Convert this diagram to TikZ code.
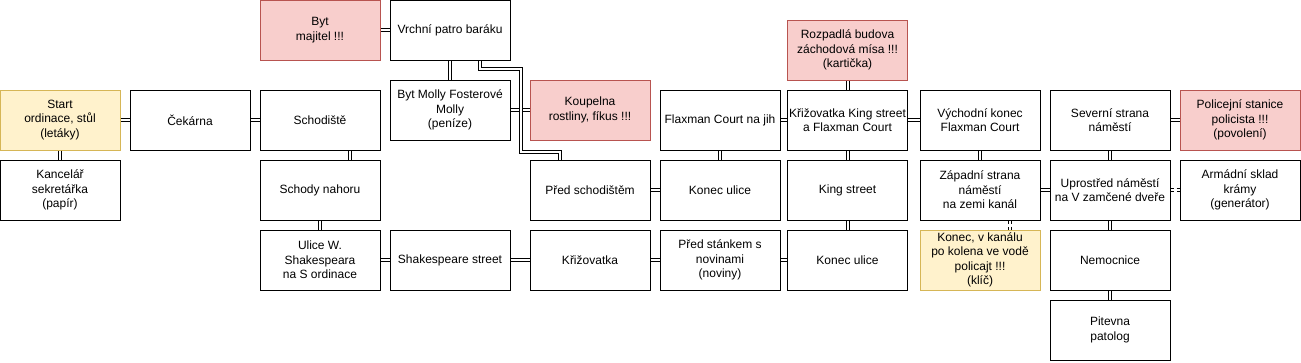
\documentclass[tikz,border=0pt]{standalone}
\usepackage{fontspec}
\setmainfont{Liberation Sans}
\usepackage{tikz}
\definecolor{yellowfill}{HTML}{FFF2CC}
\definecolor{yellowline}{HTML}{D6B656}
\definecolor{redfill}{HTML}{F8CECC}
\definecolor{redline}{HTML}{B85450}

\begin{document}
\begin{tikzpicture}[x=0.75pt,y=-0.75pt,
		room/.style={draw,line width=0.75pt,minimum width=90pt,minimum height=45pt,inner sep=0pt,align=center,font=\fontsize{9}{10.8}\selectfont},
		startroom/.style={room,draw=yellowline,fill=yellowfill},
		danger/.style={room,draw=redline,fill=redfill},
		link/.style={double,line width=0.75pt,double distance=1.5pt},
		maybe/.style={link,dash pattern=on 2.25pt off 2.25pt}]
			\useasboundingbox (0,0) rectangle (1301,362);
			% ordinace a okoli
			\node[startroom] (start) at (60,120) {Start\\ordinace, stůl\\(letáky)};
			\node[room] (kanc) at (60,190) {Kancelář\\sekretářka\\(papír)};
			\node[room] (cekarna) at (190,120) {Čekárna};
			\node[danger] (majitel) at (320,30) {Byt\\majitel !!!};
			\node[room] (schodiste) at (320,120) {Schodiště};
			\node[room] (schody) at (320,190) {Schody nahoru};
			\node[room] (ulice) at (320,260) {Ulice W.\\Shakespeara\\na S ordinace};
			\node[room] (vrchni) at (450,30) {Vrchní patro baráku};
			\node[room] (molly) at (450,110) {Byt Molly Fosterové\\Molly\\(peníze)};
			\node[room] (shakes) at (450,260) {Shakespeare street};
			\node[danger] (koupelna) at (590,110) {Koupelna\\rostliny, fíkus !!!};
			\node[room] (predschod) at (590,190) {Před schodištěm};
			\node[room] (krizovatka) at (590,260) {Křižovatka};
			% Flaxman Court a King street
			\node[room] (flaxjih) at (720,120) {Flaxman Court na jih};
			\node[room] (konecA) at (720,190) {Konec ulice};
			\node[room] (stanek) at (720,260) {Před stánkem s\\novinami\\(noviny)};
			\node[danger] (rozpadla) at (847.5,50) {Rozpadlá budova\\záchodová mísa !!!\\(kartička)};
			\node[room] (kingkriz) at (847.5,120) {Křižovatka King street\\a Flaxman Court};
			\node[room] (king) at (847.5,190) {King street};
			\node[room] (konecB) at (847.5,260) {Konec ulice};
			% namesti
			\node[room] (vychod) at (980,120) {Východní konec\\Flaxman Court};
			\node[room] (zapad) at (980,190) {Západní strana\\náměstí\\na zemi kanál};
			\node[startroom] (kanal) at (980,260) {Konec, v kanálu\\po kolena ve vodě\\policajt !!!\\(klíč)};
			\node[room] (sever) at (1110,120) {Severní strana\\náměstí};
			\node[room] (uprostred) at (1110,190) {Uprostřed náměstí\\na V zamčené dveře};
			\node[room] (nemocnice) at (1110,260) {Nemocnice};
			\node[room] (pitevna) at (1110,330) {Pitevna\\patolog};
			\node[danger] (policie) at (1240,120) {Policejní stanice\\policista !!!\\(povolení)};
			\node[room] (sklad) at (1240,190) {Armádní sklad\\krámy\\(generátor)};
			% chodby
			\foreach \a/\b in {start/cekarna,start/kanc,cekarna/schodiste,schody/ulice,ulice/shakes,shakes/krizovatka,krizovatka/stanek,stanek/konecB,konecB/king,king/kingkriz,kingkriz/rozpadla,kingkriz/flaxjih,flaxjih/konecA,konecA/predschod,vrchni/molly,vrchni/majitel,molly/koupelna,kingkriz/vychod,vychod/zapad,zapad/uprostred,sever/uprostred,sever/policie,uprostred/nemocnice,nemocnice/pitevna}
				\draw[link] (\a) -- (\b);
			\draw[link] ([xshift=22.5pt]schodiste.south) -- ([xshift=22.5pt]schody.north);
			\draw[link] ([xshift=22.5pt]vrchni.south) -- ++(0,8) -- ++(41,0) -- ++(0,83) -- ++(39,0) -- ([xshift=-22.5pt]predschod.north);
			\draw[maybe] ([xshift=22.5pt]zapad.south) -- ([xshift=22.5pt]kanal.north);
			\draw[maybe] (uprostred) -- (sklad);
		\end{tikzpicture}
\end{document}
